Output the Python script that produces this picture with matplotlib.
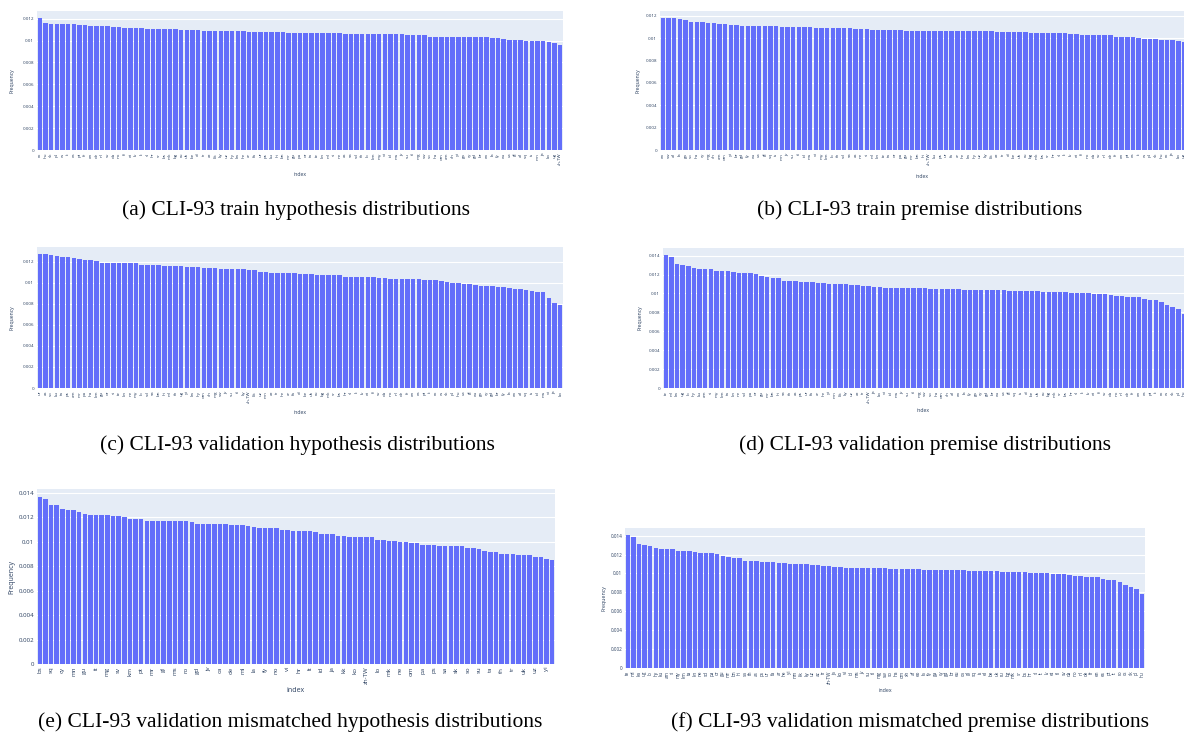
import numpy as np
import matplotlib
matplotlib.use("Agg")
import matplotlib.pyplot as plt

W, H = 1184, 738

# ---------------- data ----------------
labels_a = ("ro hu sk pl cs it es pt fr en de nl sv da no fi et lv lt sl hr sr bs mk bg ru uk be el tr az kk ky uz "
            "hy ka he ar fa ur ps ku hi bn mr gu pa or ta te kn ml si ne as sa sd th lo km my vi id ms jv su tl mg "
            "sw so ha om am xh yi ga cy gd br eo la fy eu ca gl af sq is mn ja ko ug zh-TW").split()
vals_a = [0.0121, 0.01161, 0.01155, 0.01152, 0.01152, 0.01149, 0.01149, 0.0114, 0.0114, 0.01137,
          0.01131, 0.01131, 0.01131, 0.01122, 0.01122, 0.01119, 0.01116, 0.01116, 0.01116, 0.0111,
          0.0111, 0.01107, 0.01107, 0.01107, 0.01104, 0.01101, 0.01101, 0.01097, 0.01094, 0.01091,
          0.01091, 0.01091, 0.01091, 0.01088, 0.01088, 0.01085, 0.01085, 0.01082, 0.01082, 0.01082,
          0.01079, 0.01076, 0.01076, 0.01076, 0.01073, 0.01073, 0.0107, 0.0107, 0.0107, 0.0107,
          0.0107, 0.0107, 0.0107, 0.0107, 0.01064, 0.01064, 0.01064, 0.01064, 0.01064, 0.01058,
          0.01058, 0.01058, 0.01058, 0.01058, 0.01058, 0.01049, 0.01049, 0.01049, 0.01049, 0.01037,
          0.01037, 0.01037, 0.01037, 0.01037, 0.01037, 0.01037, 0.01037, 0.01037, 0.01037, 0.0103,
          0.01021, 0.01021, 0.01015, 0.01006, 0.01006, 0.01006, 0.01, 0.01, 0.00994, 0.00994,
          0.00988, 0.00976, 0.00964]

labels_b = ("eo sw af la ga so ha cy mg xh am om yi br gd fy eu ca gl sq is mn jv su tl id ms vi my km lo th sd sa "
            "as ne si ml kn te ta or pa gu mr bn hi zh-TW ku ps ur fa ar he ka hy uz ky kk az tr el be uk ru bg mk "
            "bs sr hr sl lt lv et fi no da sv nl de fr en pt es it cs pl sk hu ro ja ko ug").split()
vals_b = [0.01184, 0.01181, 0.01178, 0.0117, 0.0116, 0.01146, 0.01146, 0.01143, 0.0114, 0.01137,
          0.01131, 0.01128, 0.01122, 0.01116, 0.01113, 0.01113, 0.01113, 0.01113, 0.01113, 0.01113,
          0.01113, 0.01104, 0.01104, 0.01104, 0.01104, 0.01104, 0.01098, 0.01092, 0.01092, 0.01092,
          0.01092, 0.01092, 0.0109, 0.0109, 0.01083, 0.01083, 0.01083, 0.01077, 0.01077, 0.01077,
          0.01074, 0.01074, 0.01074, 0.01068, 0.01068, 0.01068, 0.01068, 0.01068, 0.01065, 0.01065,
          0.01065, 0.01065, 0.0106, 0.0106, 0.0106, 0.0106, 0.0106, 0.0106, 0.0106, 0.01057,
          0.01057, 0.01057, 0.01057, 0.01057, 0.01057, 0.0105, 0.0105, 0.01042, 0.01042, 0.01042,
          0.01042, 0.01042, 0.01039, 0.01039, 0.0103, 0.0103, 0.0103, 0.0103, 0.0103, 0.0103,
          0.01015, 0.01015, 0.01015, 0.01009, 0.01003, 0.00997, 0.00994, 0.00991, 0.00988, 0.00985,
          0.0098, 0.00975, 0.0097]

labels_c = ("ur as so ku ta ps am mr pa ha km gu or si te kn ne my lo sd sa bn hi ml th ug yi ka hy om xh mg sw jv "
            "su tl ky zh-TW kk uz mn az tr he ar fa el be uk ru bg mk sr bs hr sl lt lv et fi sv da no nl de fr en "
            "es pt it ro cs sk pl hu ca gl eu ga cy gd br fy la eo af sq is id ms vi ja ko").split()
vals_c = [0.01277, 0.01277, 0.01267, 0.01258, 0.01245, 0.01245, 0.01235, 0.01226, 0.01216, 0.01216,
          0.01206, 0.01185, 0.01185, 0.01185, 0.01185, 0.01185, 0.01185, 0.01185, 0.01172, 0.01172,
          0.01172, 0.01172, 0.01162, 0.01162, 0.01162, 0.01162, 0.0115, 0.0115, 0.0115, 0.0114,
          0.0114, 0.0114, 0.0113, 0.0113, 0.0113, 0.0113, 0.0113, 0.0112, 0.0112, 0.0110,
          0.0110, 0.0109, 0.0109, 0.0109, 0.0109, 0.0109, 0.0108, 0.0108, 0.0108, 0.0107,
          0.0107, 0.0107, 0.0107, 0.0107, 0.0106, 0.0106, 0.0106, 0.0106, 0.0106, 0.0106,
          0.0105, 0.0105, 0.0104, 0.0104, 0.0104, 0.0104, 0.0104, 0.0104, 0.0103, 0.0103,
          0.0103, 0.0102, 0.0101, 0.0100, 0.0100, 0.0099, 0.0099, 0.0098, 0.0097, 0.0097,
          0.0097, 0.0096, 0.0096, 0.0095, 0.0094, 0.0094, 0.0093, 0.0092, 0.0091, 0.0091,
          0.0086, 0.0081, 0.0079]

labels_df = ("te ml ka ug lo hy ku am si my km ta kn ne sd pa or gu mr bn hi sa th as ps ur fa ar he yi mn kk ky uz "
             "az tr zh-TW ja ko vi id ms jv su tl mg sw so ha om xh af eo la fy ga cy gd br eu ca gl sq is el be uk "
             "ru bg mk sr bs hr sl lt lv et fi sv da no nl de fr en es pt it ro cs sk pl hu").split()
vals_df = [0.0141, 0.0139, 0.01316, 0.01298, 0.01288, 0.01274, 0.01256, 0.01256, 0.01256, 0.01238,
           0.01238, 0.01238, 0.01228, 0.01217, 0.01217, 0.01217, 0.01206, 0.01185, 0.01175, 0.01164,
           0.01164, 0.01136, 0.01136, 0.01136, 0.01125, 0.01125, 0.01125, 0.01115, 0.01115, 0.01104,
           0.01104, 0.01104, 0.01104, 0.01094, 0.01094, 0.01083, 0.01083, 0.01072, 0.01072, 0.01062,
           0.01062, 0.01062, 0.01062, 0.01062, 0.01062, 0.01062, 0.01062, 0.01051, 0.01051, 0.01051,
           0.01051, 0.01051, 0.01051, 0.01041, 0.01041, 0.01041, 0.01041, 0.01034, 0.01034, 0.01034,
           0.01034, 0.01023, 0.01023, 0.01023, 0.01023, 0.01023, 0.01023, 0.01013, 0.01013, 0.01013,
           0.01013, 0.01013, 0.01002, 0.01002, 0.01002, 0.01002, 0.00991, 0.00991, 0.00991, 0.00981,
           0.0097, 0.0097, 0.0096, 0.0096, 0.0096, 0.00942, 0.00932, 0.00932, 0.0091, 0.00879,
           0.00857, 0.0084, 0.00787]

labels_e = ("bs af sq am cy ar mn as gu az it be mg bg sv bn km br pt cs mr da gl el ms en ro eo gd es jv et ca eu "
            "de fa ml fi la fr fy ga no ha vi he hr hu lt hy id is ja ka kk kn ko ku zh-TW ky lo lv mk my ne nl om "
            "or pa pl ps ru sa sd sk sl so sr su sw ta te th tl tr ug uk ur uz xh yi si").split()
vals_e = [0.01365, 0.01354, 0.01304, 0.01304, 0.0127, 0.01262, 0.01262, 0.01243, 0.01232, 0.0122,
          0.0122, 0.0122, 0.0122, 0.01212, 0.01212, 0.01201, 0.0119, 0.0119, 0.0119, 0.01171,
          0.01171, 0.01171, 0.01171, 0.01171, 0.01171, 0.01171, 0.01171, 0.0116, 0.01148, 0.01148,
          0.01148, 0.01148, 0.01148, 0.01148, 0.0114, 0.0114, 0.0114, 0.01129, 0.01118, 0.0111,
          0.0111, 0.0111, 0.0111, 0.01098, 0.01098, 0.01087, 0.01087, 0.01087, 0.01087, 0.01079,
          0.01068, 0.01068, 0.01068, 0.01049, 0.01049, 0.01037, 0.01037, 0.01037, 0.01037, 0.01037,
          0.01018, 0.01018, 0.01007, 0.01007, 0.00996, 0.00996, 0.00988, 0.00988, 0.00976, 0.00976,
          0.00976, 0.00965, 0.00965, 0.00965, 0.00965, 0.00965, 0.00954, 0.00954, 0.00943, 0.00924,
          0.00915, 0.00915, 0.00904, 0.00904, 0.00904, 0.00896, 0.00896, 0.00896, 0.00874, 0.00874,
          0.00862, 0.00854]

captions = ["(a) CLI-93 train hypothesis distributions",
            "(b) CLI-93 train premise distributions",
            "(c) CLI-93 validation hypothesis distributions",
            "(d) CLI-93 validation premise distributions",
            "(e) CLI-93 validation mismatched hypothesis distributions",
            "(f) CLI-93 validation mismatched premise distributions"]

assert len(labels_a) == len(vals_a) == 93
assert len(labels_b) == len(vals_b) == 93
assert len(labels_c) == len(vals_c) == 93
assert len(labels_df) == len(vals_df) == 93
assert len(labels_e) == len(vals_e) == 92

# ---------------- style ----------------
BAR = "#636efa"
BG = "#e5ecf6"
TXT = "#2a3f5f"
plt.rcParams["font.family"] = ["Open Sans", "DejaVu Sans"]

fig = plt.figure(figsize=(W / 100, H / 100), dpi=100)


def panel(box, vals, labels, ylab_x, idx_y, fs, every=1, xmax=None):
    x0, y0, x1, y1 = box
    ax = fig.add_axes([x0 / W, 1 - y1 / H, (x1 - x0) / W, (y1 - y0) / H])
    ax.set_facecolor(BG)
    n = len(vals)
    x = np.arange(n)
    ax.bar(x, vals, width=0.8, color=BAR, zorder=3, linewidth=0)
    ax.set_xlim(-0.5, n - 0.5 if xmax is None else xmax)
    ymax = max(vals) * 1.05
    ax.set_ylim(0, ymax)
    yt = np.arange(0, ymax, 0.002)
    ax.set_yticks(yt)
    ax.set_yticklabels([f"{v:.3f}".rstrip("0").rstrip(".") if v > 0 else "0" for v in yt],
                       fontsize=fs, color=TXT)
    ax.yaxis.grid(True, color="white", linewidth=0.8, zorder=1)
    ax.set_axisbelow(True)
    ax.set_xticks(x[::every])
    ax.set_xticklabels(labels[::every], rotation=90, fontsize=fs, color=TXT)
    ax.tick_params(length=0, pad=2)
    for s in ax.spines.values():
        s.set_visible(False)
    yc = (y0 + y1) / 2
    fig.text(ylab_x / W, 1 - yc / H, "Frequency", rotation=90, ha="center", va="center",
             fontsize=fs * 1.15, color=TXT)
    fig.text((x0 + x1) / 2 / W, 1 - idx_y / H, "index", ha="center", va="center",
             fontsize=fs * 1.15, color=TXT)
    return ax


panel((37, 11, 563, 150), vals_a, labels_a, 12, 175, 3.2)
panel((660, 11, 1184, 150), vals_b, labels_b, 638, 177, 3.2, xmax=91.45)
panel((37, 247, 563, 388), vals_c, labels_c, 12, 412, 3.2)
panel((663, 248, 1184, 388), vals_df, labels_df, 640, 411, 3.2, xmax=91.45)
panel((37, 489, 555, 664), vals_e, labels_e, 12, 691, 4.4, every=2)
panel((625, 528, 1145, 668), vals_df, labels_df, 604, 691, 3.3)

cap_pos = [(296, 210), (920, 210), (297, 445), (925, 445), (290, 722), (910, 722)]
for (cx, cy), t in zip(cap_pos, captions):
    fig.text(cx / W, 1 - cy / H, t, ha="center", va="center", fontsize=15.5,
             family=["Liberation Serif", "DejaVu Serif"], color="black")

fig.savefig("out.png", dpi=100)
